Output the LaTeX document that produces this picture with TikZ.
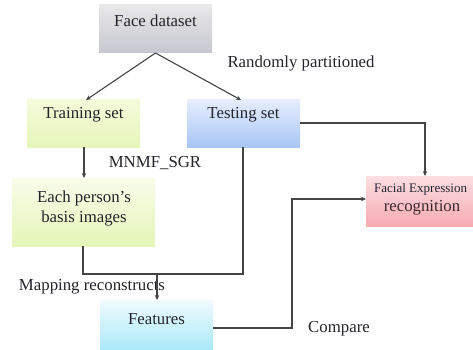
\documentclass[tikz,border=0pt]{standalone}
\usepackage{fontspec}
\setmainfont{Liberation Serif}
\usetikzlibrary{arrows.meta,positioning}
\definecolor{linec}{HTML}{454545}
\definecolor{txt}{HTML}{24242E}
\definecolor{txtr}{HTML}{3A2A30}
\tikzset{
  box/.style={draw=none, rectangle, inner sep=0pt},
  lab/.style={text=txt, font=\fontsize{16.8}{19}\selectfont, inner sep=0pt},
  conn/.style={draw=linec, line width=1.1pt},
  arr/.style={conn, -{Stealth[length=5pt,width=4.5pt]}},
}
\begin{document}
\begin{tikzpicture}[x=1pt,y=-1pt]
\useasboundingbox (0,0) rectangle (473,350);
\clip (0,0) rectangle (473,350);
\fill[white] (0,0) rectangle (473,350);
% boxes
\node[box, minimum width=113pt, minimum height=48pt, top color=gray!18, bottom color={rgb,255:red,198;green,198;blue,208}] (face) at (155.5,29) {};
\node[box, minimum width=113pt, minimum height=47pt, top color={rgb,255:red,244;green,251;blue,218}, bottom color={rgb,255:red,230;green,246;blue,186}] (train) at (83.5,123.5) {};
\node[box, minimum width=113pt, minimum height=47pt, top color={rgb,255:red,230;green,237;blue,252}, bottom color={rgb,255:red,168;green,198;blue,246}] (test) at (243.5,123.5) {};
\node[box, minimum width=143pt, minimum height=68pt, top color={rgb,255:red,249;green,252;blue,234}, bottom color={rgb,255:red,228;green,246;blue,184}] (each) at (83.5,212) {};
\node[box, minimum width=114pt, minimum height=50pt, top color={rgb,255:red,252;green,222;blue,226}, bottom color={rgb,255:red,245;green,172;blue,178}] (fer) at (423,201) {};
\node[box, minimum width=113pt, minimum height=52pt, top color={rgb,255:red,240;green,251;blue,254}, bottom color={rgb,255:red,166;green,232;blue,248}] (feat) at (156.5,326) {};
% box texts
\node[lab] (facet) at (155.5,21) {Face dataset};
\node[lab] (traint) at (83.5,115) {Training set};
\node[lab] (testt) at (243.5,115) {Testing set};
\node[lab] (eacht1) at (84,198) {Each person's};
\node[lab] (eacht2) at (84,218) {basis images};
\node[lab, anchor=west, font=\fontsize{13}{15}\selectfont] (fert1) at (374,189) {Facial Expression};
\node[lab, text=txtr] (fert2) at (422,208) {recognition};
\node[lab] (featt) at (156.5,319) {Features};
% free labels
\node[lab] (rp) at (301,63) {Randomly partitioned};
\node[lab] (mn) at (155,163) {MNMF\_SGR};
\node[lab] (mr) at (92,287) {Mapping reconstructs};
\node[lab] (cmp) at (339,329) {Compare};
% coordinates
\coordinate (fs) at (155.5,53);
\coordinate (tr1) at (86,100);
\coordinate (te1) at (241,100);
\coordinate (j1) at (425,123);
\coordinate (ferTop) at (425,176);
\coordinate (trB) at (84,147);
\coordinate (eaT) at (84,178);
\coordinate (eaB) at (83,246);
\coordinate (c1) at (83,274);
\coordinate (teB) at (243,147);
\coordinate (c2) at (243,274);
\coordinate (m1) at (157,274);
\coordinate (feT) at (157,300);
\coordinate (feR) at (213,328);
\coordinate (k1) at (292,328);
\coordinate (k2) at (292,199);
\coordinate (ferL) at (366,199);
\coordinate (teR) at (300,123);
% connectors
\draw[arr] (fs) -- (tr1);
\draw[arr] (fs) -- (te1);
\draw[arr] (teR) -- (j1) -- (ferTop);
\draw[arr] (trB) -- (eaT);
\draw[conn] (eaB) -- (c1) -- (c2) -- (teB);
\draw[arr] (m1) -- (feT);
\draw[arr] (feR) -- (k1) -- (k2) -- (ferL);
\end{tikzpicture}
\end{document}
